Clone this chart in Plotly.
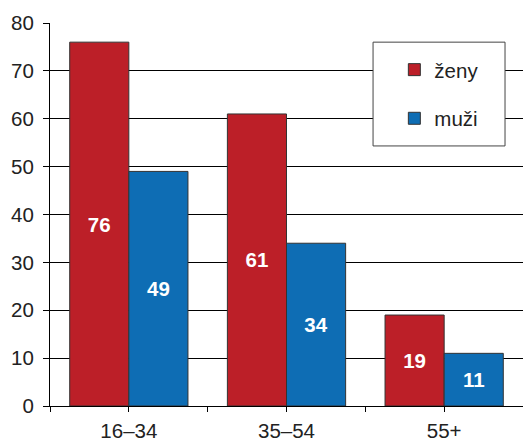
import plotly.graph_objects as go

categories = ["16–34", "35–54", "55+"]
zeny = [76, 61, 19]
muzi = [49, 34, 11]
series_names = ["ženy", "muži"]
y_ticks = [0, 10, 20, 30, 40, 50, 60, 70, 80]

RED = "#BC1F28"
BLUE = "#0E6DB4"
pos = list(range(len(categories)))

fig = go.Figure()
for name, vals, col, grp in [(series_names[0], zeny, RED, "a"), (series_names[1], muzi, BLUE, "b")]:
    fig.add_trace(go.Bar(
        x=pos, y=vals, name=name, legendgroup=grp,
        marker=dict(color=col, line=dict(color="#333333", width=1)),
        text=[str(v) for v in vals], textposition="inside", insidetextanchor="middle",
        textfont=dict(family="Arial, Liberation Sans", size=20.5, color="white", weight="bold"),
        cliponaxis=False,
    ))

fig.update_layout(
    width=523, height=442,
    margin=dict(l=50, r=0, t=23, b=36),
    paper_bgcolor="white", plot_bgcolor="white",
    barmode="group", bargap=0.25, bargroupgap=0,
    font=dict(family="Arial, Liberation Sans", size=20.5, color="#222222"),
    showlegend=True,
    legend=dict(x=0.728, y=0.93, xanchor="left", yanchor="top",
                bgcolor="rgba(0,0,0,0)", borderwidth=0,
                tracegroupgap=19, font=dict(size=20.5, color="#222222"),
                traceorder="grouped"),
    uniformtext=dict(minsize=10, mode="show"),
)
fig.update_xaxes(
    range=[-0.5, 2.5], tickvals=pos, ticktext=categories, automargin=False,
    showline=True, linecolor="black", linewidth=1,
    ticks="outside", ticklen=5, tickcolor="black",
    showgrid=False, zeroline=False, ticklabelstandoff=1,
    tickfont=dict(size=20.5),
    minor=dict(tickvals=[-0.5, 0.5, 1.5, 2.5], ticks="outside", ticklen=5, tickcolor="black", showgrid=False),
)
fig.update_yaxes(
    range=[0, 80], tickvals=y_ticks, automargin=False,
    showline=True, linecolor="black", linewidth=1,
    ticks="outside", ticklen=6, tickcolor="black",
    showgrid=True, gridcolor="black", gridwidth=1, zeroline=False,
    ticklabelstandoff=5, tickfont=dict(size=20.5),
)
fig.add_shape(type="rect", xref="paper", yref="paper",
              x0=0.683, x1=0.962, y0=0.679, y1=0.950,
              fillcolor="white", line=dict(color="#444444", width=1), layer="above")

fig.write_html("out.html", config={"displayModeBar": False},
               post_script="document.body.style.margin='0';document.body.style.padding='0';")
